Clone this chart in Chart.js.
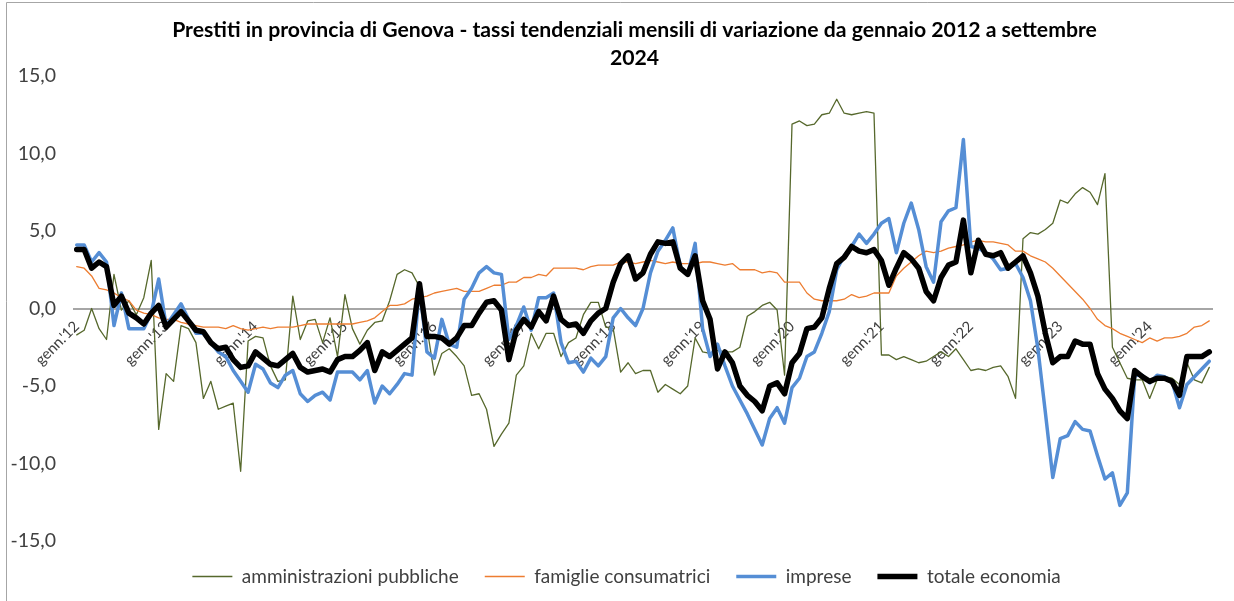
<!DOCTYPE html>
<html lang="it">
<head>
<meta charset="utf-8">
<title>Prestiti in provincia di Genova</title>
<script src="https://cdn.jsdelivr.net/npm/chart.js@4.4.1/dist/chart.umd.min.js"></script>
<style>
  html, body { margin: 0; padding: 0; background: #fff; }
  #wrap { position: relative; width: 1234px; height: 601px; }
</style>
</head>
<body>
<div id="wrap"><canvas id="myChart"></canvas></div>
<script>
// mesi da gennaio 2012 a settembre 2024 (153 osservazioni)
const mesi = ['genn.', 'febbr.', 'mar.', 'apr.', 'magg.', 'giu.', 'lug.', 'ag.', 'sett.', 'ott.', 'nov.', 'dic.'];
const anni = ['12', '13', '14', '15', '16', '17', '18', '19', '20', '21', '22', '23', '24'];
// etichette asse x (solo gennaio)
const yearTicks = ["genn.'12", "genn.'13", "genn.'14", "genn.'15", "genn.'16", "genn.'17", "genn.'18",
  "genn.'19", "genn.'20", "genn.'21", "genn.'22", "genn.'23", "genn.'24"];

// tassi tendenziali, una riga per anno
const amministrazioni = [
  -1.7, -1.4, 0.0, -1.3, -2.0, 2.2, -0.1, 0.5, -0.4, 0.7, 3.1, -7.8,
  -4.2, -4.7, -1.1, -1.3, -2.2, -5.8, -4.7, -6.5, -6.3, -6.1, -10.5, -2.1,
  -1.8, -1.9, -3.7, -4.7, -4.6, 0.8, -2.0, -0.8, -0.7, -2.2, -0.6, -3.1,
  0.9, -1.3, -2.3, -1.4, -0.9, -0.8, 0.5, 2.2, 2.5, 2.3, 1.4, -1.2,
  -4.3, -2.9, -2.6, -3.1, -3.7, -5.6, -5.5, -6.5, -8.9, -8.1, -7.4, -4.3,
  -3.7, -1.6, -2.6, -1.6, -1.6, -3.1, -2.2, -1.9, -0.4, 0.4, 0.4, -1.2,
  -1.3, -4.1, -3.5, -4.2, -4.0, -4.0, -5.4, -4.9, -5.2, -5.5, -5.0, -1.9,
  -2.8, -2.9, -2.7, -2.8, -2.8, -2.5, -0.5, -0.2, 0.2, 0.4, -0.1, -4.3,
  11.9, 12.1, 11.8, 11.9, 12.5, 12.6, 13.5, 12.6, 12.5, 12.6, 12.7, 12.6,
  -3.0, -3.0, -3.3, -3.1, -3.3, -3.5, -3.4, -3.1, -2.8, -3.1, -2.6, -3.3,
  -4.0, -3.9, -4.0, -3.8, -3.7, -4.4, -5.8, 4.5, 4.9, 4.8, 5.1, 5.5,
  7.0, 6.8, 7.4, 7.8, 7.5, 6.7, 8.7, -2.5, -3.5, -4.5, -4.6, -4.6,
  -5.8, -4.6, -4.4, -4.5, -4.9, -3.5, -4.6, -4.8, -3.8
];
const famiglie = [
  2.7, 2.6, 2.1, 1.3, 1.2, 1.0, 0.7, 0.5, -0.1, -0.3, -0.4, -0.6,
  -0.7, -0.7, -0.9, -1.0, -1.1, -1.2, -1.2, -1.2, -1.3, -1.1, -1.3, -1.4,
  -1.3, -1.2, -1.3, -1.2, -1.2, -1.2, -1.1, -1.0, -1.0, -1.0, -1.0, -1.0,
  -1.0, -1.0, -0.9, -0.8, -0.6, -0.2, 0.2, 0.2, 0.3, 0.6, 0.7, 0.8,
  1.0, 1.1, 1.2, 1.3, 1.1, 1.1, 1.1, 1.3, 1.5, 1.5, 1.7, 1.7,
  2.0, 2.0, 2.2, 2.1, 2.6, 2.6, 2.6, 2.6, 2.5, 2.7, 2.8, 2.8,
  2.8, 3.0, 3.0, 2.9, 3.0, 3.1, 3.0, 2.9, 3.0, 2.9, 2.9, 2.9,
  3.0, 3.0, 2.9, 2.8, 2.9, 2.5, 2.5, 2.5, 2.3, 2.4, 2.3, 1.7,
  1.7, 1.7, 1.0, 0.6, 0.5, 0.5, 0.5, 0.6, 0.9, 0.7, 0.8, 1.0,
  1.0, 1.0, 2.1, 2.6, 3.0, 3.4, 3.7, 3.6, 3.7, 3.9, 4.0, 4.1,
  4.3, 4.4, 4.3, 4.3, 4.2, 4.1, 3.7, 3.7, 3.4, 3.2, 3.0, 2.6,
  2.1, 1.6, 1.1, 0.6, 0.0, -0.7, -1.1, -1.3, -1.6, -1.8, -2.0, -2.2,
  -1.9, -2.1, -1.9, -1.9, -1.8, -1.6, -1.2, -1.1, -0.8
];
const imprese = [
  4.1, 4.1, 3.0, 3.6, 3.0, -1.1, 1.0, -1.3, -1.3, -1.3, -0.3, 1.9,
  -1.1, -0.4, 0.3, -0.7, -1.6, -1.6, -2.2, -2.8, -3.1, -4.0, -4.7, -5.4,
  -3.6, -3.9, -4.8, -5.1, -4.3, -4.0, -5.5, -6.0, -5.6, -5.4, -5.9, -4.1,
  -4.1, -4.1, -4.6, -4.0, -6.1, -5.0, -5.5, -4.9, -4.2, -4.3, 1.4, -2.8,
  -3.2, -0.7, -2.3, -2.5, 0.6, 1.3, 2.3, 2.7, 2.3, 2.2, -2.0, -1.1,
  0.1, -1.4, 0.7, 0.7, 1.0, -2.2, -3.5, -3.4, -4.1, -3.2, -3.7, -3.1,
  -0.6, 0.0, -0.6, -1.1, 0.0, 2.3, 3.7, 4.4, 5.2, 2.7, 2.2, 4.2,
  -1.3, -3.1, -2.3, -3.7, -5.0, -5.9, -6.8, -7.8, -8.8, -7.1, -6.4, -7.4,
  -5.1, -4.5, -3.1, -2.8, -1.6, -0.2, 2.5, 3.4, 4.0, 4.8, 4.2, 4.8,
  5.5, 5.8, 3.6, 5.5, 6.8, 5.1, 2.7, 1.7, 5.6, 6.3, 6.5, 10.9,
  4.0, 3.9, 3.6, 3.2, 2.5, 2.6, 2.9, 2.0, 0.5, -2.6, -6.7, -10.9,
  -8.4, -8.2, -7.3, -7.8, -7.9, -9.5, -11.0, -10.6, -12.7, -11.9, -4.3, -4.3,
  -4.8, -4.3, -4.4, -4.7, -6.4, -4.9, -4.4, -3.9, -3.4
];
const totale = [
  3.8, 3.8, 2.6, 3.0, 2.7, 0.2, 0.8, -0.3, -0.6, -1.0, -0.3, 0.2,
  -1.2, -0.7, -0.2, -0.8, -1.4, -1.5, -2.2, -2.6, -2.5, -3.3, -3.8, -3.7,
  -2.8, -3.2, -3.6, -3.7, -3.3, -2.9, -3.8, -4.1, -4.0, -3.9, -4.1, -3.3,
  -3.1, -3.1, -2.7, -2.2, -4.0, -2.8, -3.1, -2.7, -2.3, -1.9, 1.6, -1.8,
  -1.8, -1.9, -2.3, -1.9, -1.1, -1.1, -0.3, 0.4, 0.5, -0.1, -3.3, -1.4,
  -0.7, -1.2, -0.2, -0.8, 0.8, -0.7, -1.1, -1.0, -1.6, -0.8, -0.3, 0.0,
  1.7, 2.9, 3.4, 1.9, 2.3, 3.5, 4.3, 4.2, 4.3, 2.6, 2.2, 3.4,
  0.5, -0.7, -3.9, -2.8, -3.5, -5.0, -5.6, -6.0, -6.6, -5.0, -4.8, -5.5,
  -3.5, -2.9, -1.3, -1.2, -0.6, 1.3, 2.9, 3.3, 4.0, 3.7, 3.6, 3.8,
  3.1, 1.5, 2.6, 3.6, 3.2, 2.6, 1.1, 0.5, 2.0, 2.8, 3.0, 5.7,
  2.3, 4.4, 3.5, 3.4, 3.6, 2.6, 3.0, 3.4, 2.3, 0.8, -1.6, -3.5,
  -3.1, -3.1, -2.1, -2.3, -2.3, -4.2, -5.2, -5.8, -6.6, -7.1, -4.0, -4.4,
  -4.7, -4.5, -4.5, -4.7, -5.6, -3.1, -3.1, -3.1, -2.8
];

// categorie mensili
const labels = [];
anni.forEach((a) => {
  mesi.forEach((m) => {
    if (labels.length < totale.length) labels.push(m + "'" + a);
  });
});

// cornice grigia del grafico (come in Excel)
const cornice = {
  id: 'cornice',
  beforeDraw(chart) {
    const c = chart.ctx;
    c.save();
    c.fillStyle = '#fff';
    c.fillRect(0, 0, chart.width, chart.height);
    c.strokeStyle = '#a6a6a6';
    c.lineWidth = 1;
    c.beginPath();
    c.moveTo(6.5, chart.height);
    c.lineTo(6.5, 2.5);
    c.lineTo(chart.width, 2.5);
    c.stroke();
    c.restore();
  },
};

// titolo e legenda un po' spostati a destra, come nell'originale
const centra = {
  id: 'centra',
  afterLayout(chart) {
    const t = chart.titleBlock;
    t.left += 28;
    t.right += 28;
    const l = chart.legend;
    l.left += 20;
    l.right += 20;
  },
};

const ctx = document.getElementById('myChart');
Chart.defaults.font.family = 'Lato';

new Chart(ctx, {
  type: 'line',
  data: {
    labels: labels,
    datasets: [
      {
        label: 'amministrazioni pubbliche',
        data: amministrazioni,
        borderColor: '#56682c',
        backgroundColor: '#56682c',
        borderWidth: 1.3,
        order: 4,
      },
      {
        label: 'famiglie consumatrici',
        data: famiglie,
        borderColor: '#ed7d31',
        backgroundColor: '#ed7d31',
        borderWidth: 1.3,
        order: 3,
      },
      {
        label: 'imprese',
        data: imprese,
        borderColor: '#558ed5',
        backgroundColor: '#558ed5',
        borderWidth: 3.5,
        order: 2,
      },
      {
        label: 'totale economia',
        data: totale,
        borderColor: '#000000',
        backgroundColor: '#000000',
        borderWidth: 5.5,
        order: 1,
      },
    ],
  },
  options: {
    responsive: true,
    maintainAspectRatio: false,
    animation: false,
    layout: {
      padding: { left: 0, right: 21, top: 0, bottom: 5 },
    },
    elements: {
      point: { radius: 0, hoverRadius: 0 },
      line: { tension: 0, borderJoinStyle: 'round', borderCapStyle: 'round', fill: false },
    },
    scales: {
      x: {
        type: 'category',
        position: { y: 0 },
        offset: true,
        border: { display: false },
        grid: { display: false, drawTicks: false },
        ticks: {
          autoSkip: false,
          maxRotation: 45,
          minRotation: 45,
          padding: 9,
          color: '#404040',
          font: { size: 15 },
          callback: (value, index) => (index % 12 === 0 ? yearTicks[index / 12] : ''),
        },
      },
      y: {
        min: -15,
        max: 15,
        afterFit: (scale) => {
          scale.width = 73;
        },
        border: { display: false },
        grid: {
          drawTicks: false,
          lineWidth: 2,
          color: (c) => (c.tick && c.tick.value === 0 ? '#a6a6a6' : 'rgba(0,0,0,0)'),
        },
        ticks: {
          stepSize: 5,
          padding: 17,
          color: '#404040',
          font: { size: 19.5 },
          callback: (v) => v.toFixed(1).replace('.', ','),
        },
      },
    },
    plugins: {
      tooltip: { enabled: false },
      title: {
        display: true,
        text: ['Prestiti in provincia di Genova - tassi tendenziali mensili di variazione da gennaio 2012 a settembre', '2024'],
        color: '#000',
        font: { size: 21.2, weight: 'bold', lineHeight: 28 / 21.2 },
        padding: { top: 16, bottom: 4 },
      },
      legend: {
        position: 'bottom',
        maxHeight: 60,
        labels: {
          usePointStyle: true,
          pointStyle: 'line',
          pointStyleWidth: 40,
          padding: 26,
          color: '#404040',
          font: { size: 19 },
          sort: (a, b) => a.datasetIndex - b.datasetIndex,
        },
      },
    },
  },
  plugins: [cornice, centra],
});
</script>
</body>
</html>
